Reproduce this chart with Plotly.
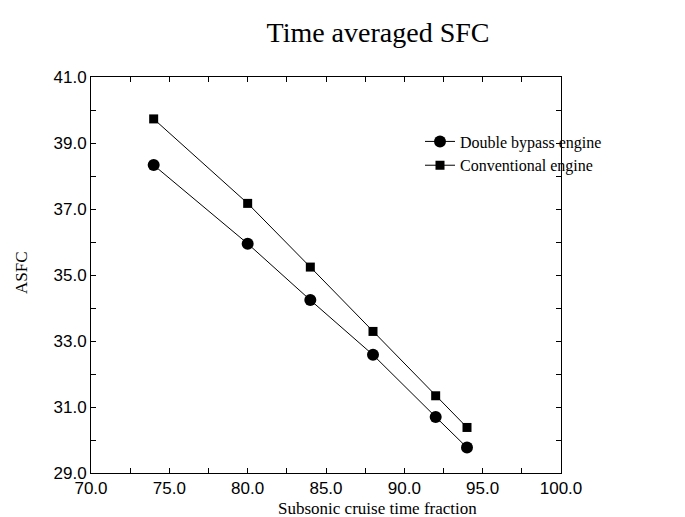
import plotly.graph_objects as go

x_vals = [74, 80, 84, 88, 92, 94]
double_bypass = [38.33, 35.95, 34.24, 32.58, 30.70, 29.77]
conventional = [39.73, 37.17, 35.24, 33.29, 31.34, 30.38]
y_ticks = [29, 31, 33, 35, 37, 39, 41]
x_ticks = [70, 75, 80, 85, 90, 95, 100]

serif = "Liberation Serif, Times New Roman, serif"
sans = "Liberation Sans, Arial, sans-serif"

fig = go.Figure()
fig.add_trace(go.Scatter(
    x=x_vals, y=double_bypass, mode="lines+markers", name="Double bypass engine",
    line=dict(color="black", width=1),
    marker=dict(symbol="circle", size=12, color="black"),
))
fig.add_trace(go.Scatter(
    x=x_vals, y=conventional, mode="lines+markers", name="Conventional engine",
    line=dict(color="black", width=1),
    marker=dict(symbol="square", size=9, color="black"),
))

axis_common = dict(
    showline=True, linecolor="black", linewidth=1, mirror="ticks",
    ticks="inside", ticklen=5, tickcolor="black", tickwidth=1,
    showgrid=False, zeroline=False, automargin=False,
    tickfont=dict(family=sans, size=17, color="black"),
)

fig.update_layout(
    width=685, height=517,
    margin=dict(l=91, r=124, t=77, b=44),
    paper_bgcolor="white", plot_bgcolor="white",
    title=dict(text="Time averaged SFC", x=378/685, xanchor="center", xref="container",
               y=1 - 32/517, yanchor="middle", yref="container",
               font=dict(family=serif, size=28, color="black")),
    showlegend=True,
    legend=dict(x=0.70, y=0.88, xanchor="left", yanchor="top",
                font=dict(family=serif, size=16, color="black"),
                bgcolor="rgba(0,0,0,0)", tracegroupgap=0),
    xaxis=dict(range=[70, 100], tickvals=x_ticks,
               ticktext=[f"{v:.1f}" for v in x_ticks],
               minor=dict(ticks="inside", dtick=2.5, ticklen=5, tickcolor="black"),
               **axis_common),
    yaxis=dict(range=[29, 41], tickvals=y_ticks,
               ticktext=[f"{v:.1f}" for v in y_ticks],
               minor=dict(ticks="inside", dtick=1, ticklen=5, tickcolor="black"),
               **axis_common),
    annotations=[
        dict(text="Subsonic cruise time fraction", xref="paper", yref="paper",
             x=(377 - 91) / 470, y=(473 - 509) / 396, xanchor="center", yanchor="middle",
             showarrow=False, font=dict(family=serif, size=17, color="black")),
        dict(text="ASFC", xref="paper", yref="paper", textangle=-90,
             x=(21 - 91) / 470, y=(473 - 273) / 396, xanchor="center", yanchor="middle",
             showarrow=False, font=dict(family=serif, size=17, color="black")),
    ],
)

fig.write_html("out.html")
